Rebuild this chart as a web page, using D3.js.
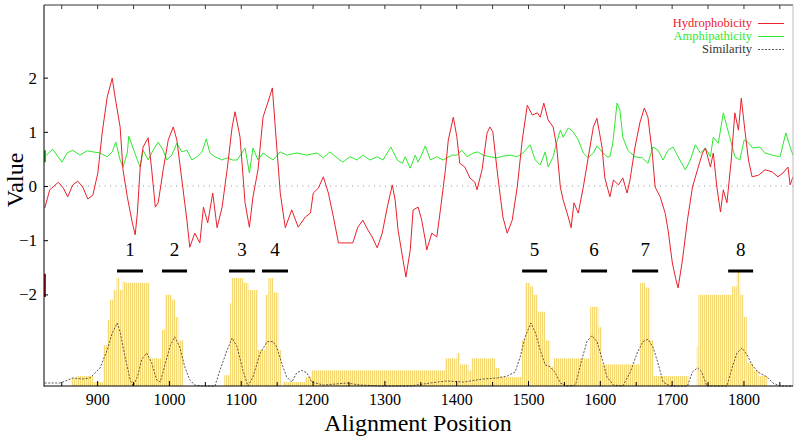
<!DOCTYPE html>
<html><head><meta charset="utf-8">
<script src="https://cdn.jsdelivr.net/npm/d3@7/dist/d3.min.js"></script>
<style>body{margin:0;background:#fff}svg{display:block}</style>
</head><body><svg id="c" width="800" height="437"></svg>
<script>
// ---- data ----
const xTickLabels = [900,1000,1100,1200,1300,1400,1500,1600,1700,1800];
const xMinorTicks = [850,950,1050,1150,1250,1350,1450,1550,1650,1750,1850];
const yTickLabels = [-2,-1,0,1,2];
const hydrophobicity = [[827,-0.41],[834,-0.07],[846,0.07],[853,-0.04],[859,-0.20],[866,0.02],[873,0.09],[880,-0.02],[887,-0.24],[894,-0.17],[901,0.24],[907,0.98],[914,1.64],[921,1.99],[925,1.64],[932,1.09],[936,0.30],[942,-0.20],[949,-0.68],[953,-0.90],[956,-0.50],[960,0.35],[964,0.72],[971,0.89],[976,0.30],[981,-0.39],[985,-0.31],[992,0.30],[999,0.85],[1006,1.09],[1011,0.85],[1018,0.11],[1025,-0.63],[1029,-1.13],[1036,-0.87],[1043,-1.05],[1048,-0.39],[1054,-0.68],[1061,-0.13],[1067,-0.77],[1074,-0.39],[1081,0.30],[1088,1.09],[1092,1.37],[1099,0.90],[1106,-0.31],[1112,-0.76],[1117,-0.20],[1124,0.30],[1131,1.27],[1138,1.55],[1144,1.81],[1148,1.09],[1155,-0.13],[1162,-0.77],[1171,-0.44],[1180,-0.76],[1190,-0.57],[1197,-0.50],[1201,-0.13],[1208,-0.04],[1215,0.17],[1222,-0.13],[1229,-0.57],[1236,-1.05],[1245,-1.05],[1256,-1.05],[1263,-0.76],[1270,-0.63],[1277,-0.81],[1283,-0.94],[1290,-1.14],[1297,-0.87],[1304,-0.39],[1311,0.02],[1315,-0.26],[1319,-0.81],[1326,-1.37],[1330,-1.68],[1336,-1.18],[1340,-0.44],[1347,-0.39],[1352,-0.63],[1357,-1.00],[1359,-1.18],[1366,-0.87],[1373,-0.94],[1378,-0.44],[1385,0.30],[1389,0.85],[1396,1.27],[1401,0.90],[1405,0.42],[1412,0.35],[1419,0.15],[1426,0.07],[1429,-0.07],[1436,0.30],[1443,0.98],[1447,1.09],[1451,1.00],[1458,0.17],[1465,-0.57],[1471,-0.87],[1478,-0.63],[1485,-0.02],[1492,0.85],[1499,1.49],[1506,1.31],[1513,1.35],[1517,1.27],[1522,1.53],[1528,1.22],[1535,1.09],[1540,0.72],[1545,-0.02],[1549,-0.26],[1556,-0.57],[1560,-0.77],[1564,-0.31],[1570,-0.50],[1577,-0.02],[1584,0.54],[1591,1.09],[1596,1.25],[1603,0.72],[1607,0.15],[1614,-0.20],[1619,0.11],[1626,0.02],[1632,0.15],[1638,-0.13],[1642,0.11],[1649,0.72],[1656,1.18],[1662,1.44],[1667,1.27],[1673,0.61],[1677,-0.02],[1684,-0.20],[1691,-0.50],[1695,-0.81],[1701,-1.42],[1706,-1.73],[1709,-1.88],[1715,-1.37],[1722,-0.63],[1729,-0.02],[1736,0.30],[1743,0.61],[1747,0.70],[1754,0.35],[1758,0.61],[1763,-0.02],[1768,-0.48],[1772,-0.07],[1777,-0.31],[1783,0.48],[1788,1.35],[1793,1.03],[1797,1.62],[1802,1.03],[1807,0.48],[1812,0.17],[1821,0.20],[1830,0.30],[1840,0.26],[1848,0.17],[1855,0.24],[1862,0.35],[1865,0.02],[1869,0.17]];
const amphipathicity = [[827,0.54],[838,0.68],[851,0.44],[858,0.61],[866,0.66],[876,0.57],[886,0.65],[894,0.63],[904,0.61],[914,0.54],[921,0.63],[926,0.81],[932,0.48],[936,0.35],[942,0.61],[944,0.92],[950,0.70],[956,0.48],[960,0.35],[964,0.66],[971,0.48],[978,0.66],[985,0.81],[992,0.66],[997,0.48],[1004,0.57],[1011,0.79],[1018,0.63],[1025,0.66],[1032,0.48],[1039,0.54],[1046,0.63],[1052,0.87],[1057,0.61],[1064,0.54],[1074,0.48],[1081,0.52],[1089,0.48],[1095,0.48],[1106,0.70],[1112,0.24],[1117,0.70],[1124,0.48],[1131,0.61],[1138,0.54],[1145,0.48],[1155,0.63],[1164,0.57],[1178,0.61],[1192,0.57],[1206,0.61],[1215,0.52],[1224,0.63],[1234,0.52],[1242,0.44],[1252,0.54],[1262,0.48],[1270,0.57],[1280,0.48],[1290,0.54],[1298,0.48],[1309,0.72],[1318,0.48],[1325,0.42],[1329,0.54],[1336,0.33],[1343,0.57],[1347,0.44],[1350,0.52],[1357,0.74],[1364,0.48],[1373,0.54],[1382,0.48],[1394,0.57],[1401,0.57],[1408,0.66],[1415,0.54],[1424,0.61],[1430,0.63],[1437,0.57],[1447,0.54],[1457,0.52],[1465,0.55],[1475,0.57],[1485,0.54],[1493,0.61],[1503,0.76],[1510,0.48],[1517,0.39],[1524,0.63],[1528,0.35],[1535,0.54],[1540,0.81],[1545,1.03],[1549,0.90],[1556,1.07],[1563,1.00],[1570,0.85],[1577,0.61],[1584,0.52],[1591,0.61],[1596,0.74],[1603,0.63],[1610,0.54],[1614,0.54],[1618,0.79],[1624,1.53],[1628,1.40],[1632,0.90],[1639,0.66],[1649,0.54],[1659,0.52],[1667,0.42],[1674,0.72],[1681,0.66],[1688,0.48],[1695,0.66],[1702,0.72],[1709,0.54],[1719,0.30],[1726,0.48],[1733,0.76],[1740,0.61],[1747,0.70],[1754,0.54],[1758,0.90],[1765,0.79],[1772,1.35],[1777,1.09],[1781,0.90],[1788,0.54],[1795,0.48],[1801,0.85],[1806,0.81],[1813,0.70],[1823,0.72],[1830,0.61],[1840,0.57],[1851,0.54],[1859,0.98],[1865,0.72],[1869,0.57]];
const similarity = [[827,0.025],[848,0.025],[852,0.033],[866,0.067],[880,0.058],[890,0.067],[904,0.15],[914,0.30],[921,0.44],[928,0.525],[932,0.45],[939,0.24],[946,0.05],[950,0.0],[956,0.075],[962,0.22],[969,0.275],[976,0.19],[983,0.05],[988,0.033],[995,0.19],[1002,0.34],[1008,0.41],[1015,0.325],[1022,0.16],[1029,0.05],[1036,0.008],[1047,0],[1064,0],[1071,0.13],[1081,0.30],[1088,0.40],[1095,0.325],[1103,0.13],[1110,0],[1117,0.075],[1127,0.275],[1137,0.37],[1145,0.37],[1150,0.325],[1157,0.19],[1164,0.075],[1171,0.033],[1178,0.11],[1185,0.13],[1192,0.11],[1199,0.033],[1215,0.008],[1248,0.025],[1266,0.008],[1298,0],[1336,0],[1364,0.025],[1387,0.042],[1410,0.033],[1437,0.058],[1457,0.067],[1471,0.083],[1482,0.117],[1489,0.24],[1496,0.41],[1504,0.525],[1510,0.45],[1517,0.30],[1524,0.175],[1531,0.16],[1538,0.11],[1545,0.025],[1554,0],[1566,0.008],[1575,0.22],[1582,0.37],[1589,0.42],[1596,0.37],[1603,0.23],[1610,0.075],[1619,0.008],[1632,0],[1642,0.11],[1652,0.275],[1660,0.37],[1667,0.39],[1674,0.325],[1681,0.19],[1688,0.033],[1698,0],[1722,0],[1729,0.117],[1736,0.15],[1742,0.117],[1749,0],[1777,0],[1784,0.15],[1791,0.275],[1798,0.317],[1805,0.26],[1812,0.175],[1820,0.117],[1833,0.075],[1841,0.025],[1851,0],[1869,0]];
// similarity histogram runs: [start, end, value]
const similarityBars = [[864.5,871.5,0.067],[871.5,894.7,0.083],[894.7,908.6,0.033],[908.6,914.2,0.34],[914.2,917.9,0.55],[917.9,922.5,0.72],[922.5,927.2,0.80],[927.2,930.9,0.90],[930.9,935.6,0.80],[935.6,938.8,0.87],[938.8,972.7,0.86],[972.7,989.9,0.23],[989.9,994.5,0.47],[994.5,1003.9,0.76],[1003.9,1008.5,0.72],[1008.5,1013.1,0.575],[1013.1,1020,0.38],[1077,1085,0.09],[1085,1087.4,0.69],[1087.4,1103.6,0.90],[1103.6,1110.5,0.86],[1110.5,1124,0.80],[1124,1133.8,0.30],[1133.8,1138.4,0.76],[1138.4,1145.4,0.90],[1145.4,1152.3,0.78],[1152.3,1156,0.30],[1158.9,1189.5,0.033],[1189.5,1198.8,0.075],[1198.8,1384.5,0.13],[1384.5,1400.8,0.23],[1400.8,1405.4,0.275],[1405.4,1417,0.18],[1417,1421.7,0.13],[1421.7,1454,0.23],[1454,1461,0.15],[1461,1491.3,0.075],[1491.3,1495.9,0.38],[1495.9,1502.9,0.86],[1502.9,1507.5,0.83],[1507.5,1513.1,0.76],[1513.1,1523.8,0.62],[1523.8,1530.8,0.38],[1530.8,1535.4,0.16],[1535.4,1586.5,0.23],[1586.5,1598,0.66],[1598,1602.7,0.49],[1602.7,1656,0.18],[1656,1663,0.86],[1663,1670,0.82],[1670,1674.6,0.38],[1674.6,1723.4,0.083],[1735,1737.3,0.33],[1737.3,1784,0.76],[1784,1790.8,0.83],[1790.8,1795.4,0.95],[1795.4,1800,0.76],[1800,1804.7,0.575],[1804.7,1813.9,0.19],[1813.9,1820.9,0.13],[1820.9,1832.6,0.083]];
const regionLabels = ["1","2","3","4","5","6","7","8"];
const regionStart = [927.7,990.3,1083.7,1129.6,1491.8,1573.9,1645,1778.7];
const regionEnd = [963.9,1025.2,1119.9,1165.8,1526.6,1610.1,1681.2,1813.5];
const legendNames = ["Hydrophobicity","Amphipathicity","Similarity"];

// ---- drawing ----
const RED="#e8212b", GREEN="#2ee82e", GRAY="#444";
const svg=d3.select("#c");
svg.append("rect").attr("width",800).attr("height",437).attr("fill","#fff");
const x=d3.scaleLinear().domain([826,1869]).range([44,793]);
const y=d3.scaleLinear().domain([-3.69,3.34]).range([386,5]);
const s=d3.scaleLinear().domain([0,1]).range([386,266]);

const defs=svg.append("defs");
const pat=defs.append("pattern").attr("id","stripe").attr("patternUnits","userSpaceOnUse").attr("width",2).attr("height",10);
pat.append("rect").attr("width",2).attr("height",10).attr("fill","#fef7de");
pat.append("rect").attr("width",1.1).attr("height",10).attr("fill","#f6d873");

svg.append("g").selectAll("rect").data(similarityBars).join("rect")
  .attr("x",d=>x(d[0])).attr("width",d=>x(d[1])-x(d[0]))
  .attr("y",d=>s(d[2])).attr("height",d=>s(0)-s(d[2]))
  .attr("fill","url(#stripe)");

// zero line
svg.append("line").attr("x1",x(826)).attr("x2",x(1869)).attr("y1",y(0)).attr("y2",y(0))
  .attr("stroke","#8f9c9c").attr("stroke-width",1).attr("stroke-dasharray","1,4.5");

const lineH=d3.line().x(d=>x(d[0])).y(d=>y(d[1]));
const lineS=d3.line().x(d=>x(d[0])).y(d=>s(d[1]));
svg.append("path").attr("d",lineS(similarity)).attr("fill","none").attr("stroke",GRAY).attr("stroke-width",0.9).attr("stroke-dasharray","2,1.5");
svg.append("path").attr("d",lineH(amphipathicity)).attr("fill","none").attr("stroke",GREEN).attr("stroke-width",1);
svg.append("path").attr("d",lineH(hydrophobicity)).attr("fill","none").attr("stroke",RED).attr("stroke-width",1);

// edge marks at left border
svg.append("line").attr("x1",x(826)+1).attr("x2",x(826)+1).attr("y1",y(-1.62)).attr("y2",y(-2.05)).attr("stroke","#c0141c").attr("stroke-width",2);
svg.append("line").attr("x1",x(826)+1).attr("x2",x(826)+1).attr("y1",y(0.66)).attr("y2",y(0.44)).attr("stroke","#1fb81f").attr("stroke-width",2);

// region markers
const rg=svg.append("g");
rg.selectAll("line").data(regionLabels).join("line")
  .attr("x1",(d,i)=>x(regionStart[i])).attr("x2",(d,i)=>x(regionEnd[i]))
  .attr("y1",271).attr("y2",271).attr("stroke","#000").attr("stroke-width",3);
rg.selectAll("text").data(regionLabels).join("text")
  .attr("x",(d,i)=>x((regionStart[i]+regionEnd[i])/2)).attr("y",256)
  .attr("text-anchor","middle").attr("font-family","Liberation Serif").attr("font-size",19).attr("fill","#000").text(d=>d);

// axes
const font="Liberation Serif";
const xa=svg.append("g").attr("transform","translate(0,386)")
  .call(d3.axisBottom(x).tickValues(xTickLabels).tickSize(-5).tickSizeOuter(0).tickPadding(8).tickFormat(d3.format("d")));
xa.select(".domain").remove();
xa.selectAll("text").attr("font-family",font).attr("font-size",16).attr("fill","#000");
const xm=svg.append("g").attr("transform","translate(0,386)")
  .call(d3.axisBottom(x).tickValues(xMinorTicks).tickSize(-4).tickFormat(""));
xm.select(".domain").remove();
const xt=svg.append("g").attr("transform","translate(0,5)")
  .call(d3.axisTop(x).tickValues(xTickLabels.concat(xMinorTicks)).tickSize(-4).tickFormat(""));
xt.select(".domain").remove();
xt.selectAll("line").attr("stroke","#333");
const ya=svg.append("g").attr("transform","translate(44,0)")
  .call(d3.axisLeft(y).tickValues(yTickLabels).tickSize(-4).tickPadding(7).tickFormat(d3.format("d")));
ya.select(".domain").remove();
ya.selectAll("text").attr("font-family",font).attr("font-size",17).attr("fill","#000");

// frame
svg.append("line").attr("x1",44).attr("x2",793).attr("y1",5).attr("y2",5).attr("stroke","#333");
svg.append("line").attr("x1",793).attr("x2",793).attr("y1",5).attr("y2",386).attr("stroke","#bbb");
svg.append("line").attr("x1",44).attr("x2",44).attr("y1",5).attr("y2",386.5).attr("stroke","#000");
svg.append("line").attr("x1",44).attr("x2",793).attr("y1",386).attr("y2",386).attr("stroke","#000");

// titles
svg.append("text").attr("x",418).attr("y",431).attr("text-anchor","middle").attr("font-family",font).attr("font-size",24).attr("fill","#000").text("Alignment Position");
svg.append("text").attr("transform","translate(23,180) rotate(-90)").attr("text-anchor","middle").attr("font-family",font).attr("font-size",24).attr("fill","#000").text("Value");

// legend
const legColors=[RED,GREEN,"#333"];
const lg=svg.append("g");
legendNames.forEach((n,i)=>{
  const yy=27+i*13;
  lg.append("text").attr("x",752).attr("y",yy).attr("text-anchor","end").attr("font-family",font).attr("font-size",12.5).attr("fill",legColors[i]).text(n);
  lg.append("line").attr("x1",758).attr("x2",784).attr("y1",yy-3.5).attr("y2",yy-3.5)
    .attr("stroke",i===2?"#555":legColors[i]).attr("stroke-width",1).attr("stroke-dasharray",i===2?"2,1.5":null);
});
</script></body></html>
